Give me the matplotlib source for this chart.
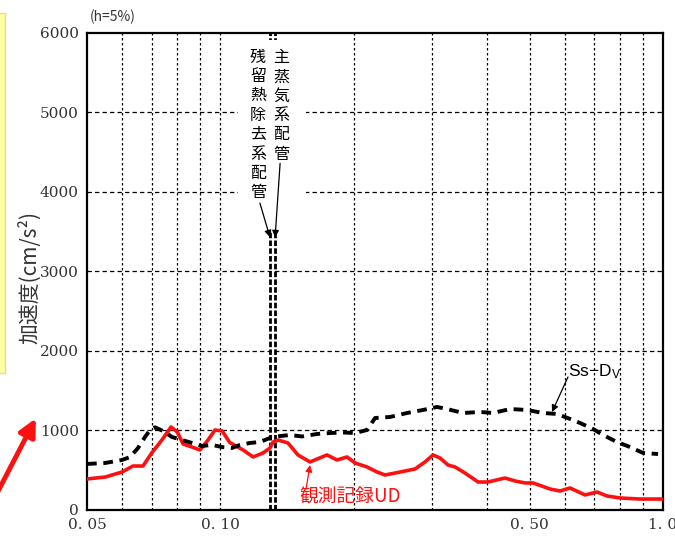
import numpy as np
import matplotlib.pyplot as plt
from matplotlib.patches import Rectangle, FancyArrowPatch

plt.rcParams['font.family'] = ['Noto Sans CJK JP', 'DejaVu Sans']
plt.rcParams['mathtext.fontset'] = 'custom'
plt.rcParams['mathtext.rm'] = 'Liberation Sans'
plt.rcParams['mathtext.it'] = 'Liberation Sans'

# Observed UD response spectrum (h=5%)
obs_period = [0.050, 0.055, 0.060, 0.0635, 0.0669, 0.070, 0.0738, 0.0774, 0.080,
              0.0824, 0.0863, 0.090, 0.0938, 0.0973, 0.101, 0.105, 0.1126, 0.1186,
              0.1249, 0.1295, 0.1316, 0.135, 0.1422, 0.1498, 0.1595, 0.1654, 0.1742,
              0.1835, 0.1933, 0.2016, 0.2145, 0.226, 0.2356, 0.2482, 0.2614, 0.2754,
              0.290, 0.3024, 0.3136, 0.3269, 0.339, 0.3571, 0.3821, 0.4025, 0.4397,
              0.4632, 0.4879, 0.5087, 0.5558, 0.5854, 0.6166, 0.6667, 0.7097, 0.7476,
              0.800, 0.8875, 1.0]
obs_acc = [390, 415, 478, 553, 553, 717, 880, 1044, 980,
           830, 792, 755, 880, 1006, 994, 850, 755, 667,
           717, 780, 855, 880, 843, 692, 604, 641, 692,
           629, 667, 591, 541, 478, 440, 465, 490, 516,
           604, 692, 654, 566, 541, 465, 352, 352, 402,
           365, 340, 340, 264, 239, 277, 189, 226, 176,
           151, 138, 138]

# Design basis spectrum Ss-Dv
ss_period = [0.050, 0.0549, 0.060, 0.0626, 0.0652, 0.0676, 0.0694, 0.0712, 0.0742,
             0.0778, 0.082, 0.0863, 0.0909, 0.0958, 0.1009, 0.1063, 0.1108, 0.1167,
             0.1229, 0.1295, 0.1365, 0.1437, 0.153, 0.1654, 0.177, 0.1893, 0.2016,
             0.2145, 0.2237, 0.2418, 0.2641, 0.287, 0.3087, 0.3252, 0.3534, 0.3861,
             0.4131, 0.4513, 0.493, 0.5358, 0.5764, 0.6166, 0.6496, 0.6951, 0.7322,
             0.7876, 0.8425, 0.9016, 0.9747]
ss_acc = [579, 591, 629, 667, 780, 918, 1006, 1040, 994,
          918, 880, 843, 805, 818, 792, 780, 818, 843,
          855, 906, 930, 943, 925, 956, 968, 975, 968,
          1006, 1157, 1170, 1220, 1258, 1296, 1270, 1220, 1233,
          1220, 1270, 1258, 1220, 1208, 1145, 1094, 1019, 943,
          855, 792, 717, 704]

# Natural periods of the piping systems
pipe_period = [0.1295, 0.133]
pipe_names = ['残留熱除去系配管', '主蒸気系配管']

xticks = [0.05, 0.10, 0.50, 1.0]
xticklabels = ['0. 05', '0. 10', '0. 50', '1. 0']
yticks = [0, 1000, 2000, 3000, 4000, 5000, 6000]

fig = plt.figure(figsize=(6.75, 5.37), dpi=100)
ax = fig.add_axes([0.1289, 0.0503, 0.8533, 0.8883])

ax.set_xscale('log')
ax.set_xlim(0.05, 1.0)
ax.set_ylim(0, 6000)

ax.plot(obs_period, obs_acc, color='#ff1010', lw=2.6, zorder=3,
        solid_capstyle='round', solid_joinstyle='round')
ax.plot(ss_period, ss_acc, color='black', lw=2.8, dashes=(2.5, 1.7), zorder=3)

for p in pipe_period:
    ax.axvline(p, color='black', lw=2.0, dashes=(2.0, 0.8), zorder=2)

# grid
minor = [0.06, 0.07, 0.08, 0.09, 0.2, 0.3, 0.4, 0.6, 0.7, 0.8, 0.9]
for v in minor + [0.1, 0.5]:
    ax.axvline(v, color='black', lw=0.9, dashes=(2, 2), zorder=1)
for v in yticks[1:-1]:
    ax.axhline(v, color='black', lw=0.9, dashes=(3.5, 2.5), zorder=1)

ax.set_xticks(xticks)
ax.set_xticklabels(xticklabels)
ax.xaxis.set_minor_locator(plt.NullLocator())
ax.set_yticks(yticks)
ax.tick_params(length=0, labelsize=11, labelcolor='#333333', pad=6)
for lab in ax.get_xticklabels() + ax.get_yticklabels():
    lab.set_family('DejaVu Serif')

for s in ax.spines.values():
    s.set_linewidth(1.6)

# white backing behind the piping labels
ax.add_patch(Rectangle((0.262, 0.583), 0.118, 0.402, transform=ax.transAxes,
                       facecolor='white', edgecolor='none', zorder=2.5))

ax.text(0.1217, 5800, '\n'.join(pipe_names[0]), ha='center', va='top',
        fontsize=11.5, linespacing=1.18, zorder=4)
ax.text(0.1372, 5800, '\n'.join(pipe_names[1]), ha='center', va='top',
        fontsize=11.5, linespacing=1.18, zorder=4)
arr = dict(arrowstyle='-|>', color='black', lw=0.9, mutation_scale=10,
           shrinkA=0, shrinkB=0)
ax.annotate('', xy=(pipe_period[0], 3430), xytext=(0.1229, 3860),
            arrowprops=arr, zorder=4)
ax.annotate('', xy=(pipe_period[1], 3430), xytext=(0.1365, 4360),
            arrowprops=arr, zorder=4)

ax.text(0.1511, 164, '観測記録UD', color='#ff1010', fontsize=13.5,
        ha='left', va='center', zorder=4)
ax.annotate('', xy=(0.1595, 566), xytext=(0.1562, 262),
            arrowprops=dict(arrowstyle='-|>', color='#ff1010', lw=0.9,
                            mutation_scale=10, shrinkA=0, shrinkB=0), zorder=4)

ax.text(0.6101, 1736, 'Ss\u2212D$_{V}$', fontsize=12.5, family='Liberation Sans',
        ha='left', va='center', zorder=4)
ax.annotate('', xy=(0.5616, 1233), xytext=(0.6101, 1673), arrowprops=arr, zorder=4)

fig.text(90 / 675, 1 - 17 / 537, '(h=5%)', fontsize=10, color='#333333',
         ha='left', va='center')
fig.text(30 / 675, 1 - 277 / 537, '加速度(cm/s²)', rotation=90, fontsize=15,
         color='#333333', ha='center', va='center')

# highlight box and pointer at the left edge
fig.patches.append(Rectangle((-0.01, 0.305), 0.0174, 0.671, transform=fig.transFigure,
                             facecolor='#ffffa8', edgecolor='#e8e070', lw=1.0))
fig.patches.append(FancyArrowPatch(
    (-0.0074, 0.0745), (0.055, 0.2255), transform=fig.transFigure,
    arrowstyle='-|>', mutation_scale=26, color='#ff1010', lw=3.5))

fig.savefig('out.png', dpi=100)
